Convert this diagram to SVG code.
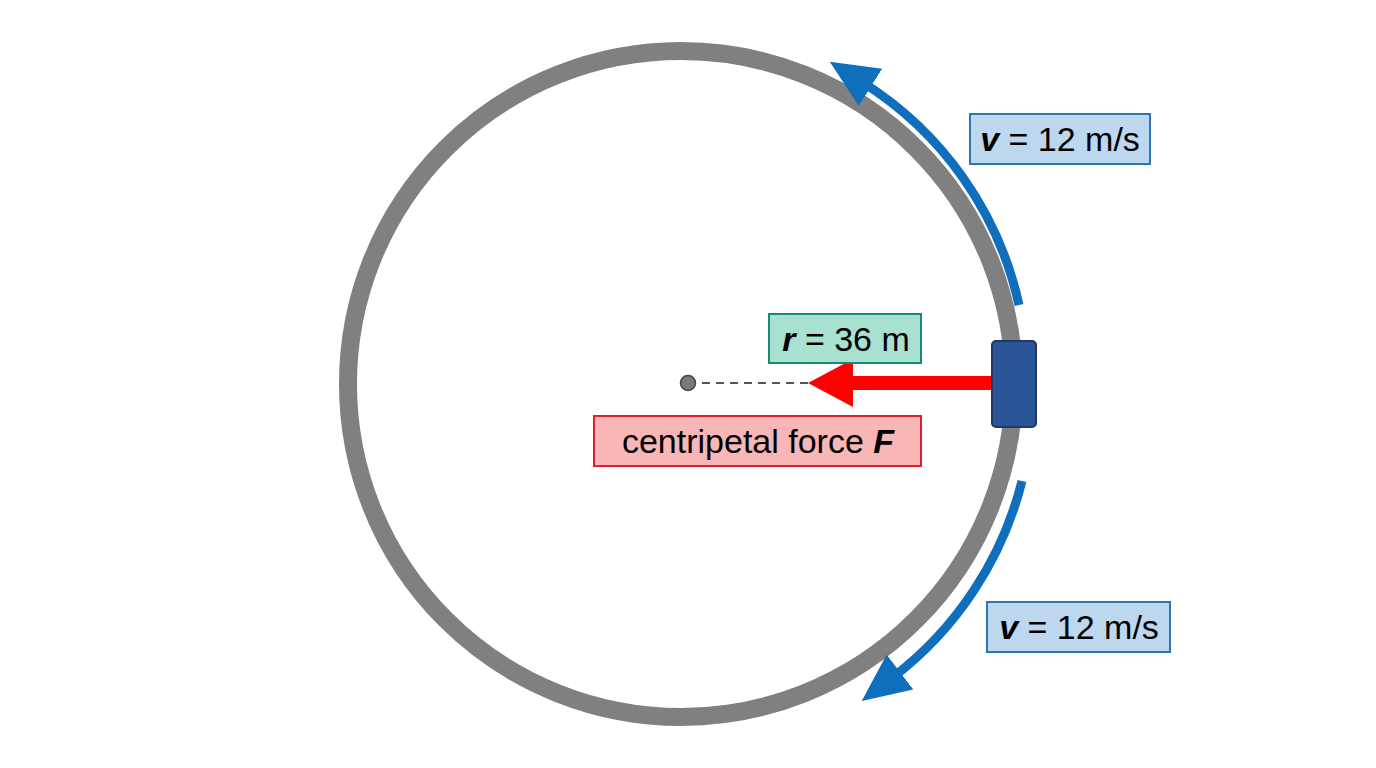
<svg xmlns="http://www.w3.org/2000/svg" width="1376" height="768" viewBox="0 0 1376 768">
<style>
text{font-family:"Liberation Sans",Arial,sans-serif;font-size:34px;fill:#000;text-anchor:middle}
.v{fill:#bdd7ee;stroke:#2e75b6;stroke-width:2}
.vel{fill:none;stroke:#0f6fbd;stroke-width:9}
</style>
<defs>
<marker id="ah" markerUnits="userSpaceOnUse" markerWidth="60" markerHeight="60" refX="10" refY="25" orient="auto"><path d="M0,3 L48,25 L0,47 Z" fill="#0f6fbd"/></marker>
</defs>
<rect width="1376" height="768" fill="#fff"/>
<g id="track"><circle cx="681" cy="384" r="333" fill="none" stroke="#808080" stroke-width="18"/></g>
<g id="connectors">
<path class="vel" d="M1019,305 A352,352 0 0 0 862,82" marker-end="url(#ah)"/>
<path class="vel" d="M1022,481 A356,356 0 0 1 892,678" marker-end="url(#ah)"/>
<line x1="688" y1="383" x2="808" y2="383" stroke="#555" stroke-width="2" stroke-dasharray="8,6"/>
<line x1="992" y1="383" x2="845" y2="383" stroke="#ff0000" stroke-width="14"/>
<path d="M808,383 L853,359 L853,407 Z" fill="#ff0000"/>
</g>
<g id="center"><circle cx="688" cy="383" r="7.5" fill="#7a7a7a" stroke="#444" stroke-width="1.5"/></g>
<g id="block"><rect x="992" y="341" width="44" height="86" rx="4" fill="#2b5597" stroke="#1f3864" stroke-width="2"/></g>
<g id="v1"><rect class="v" x="970" y="114" width="180" height="50"/><text x="1060" y="151"><tspan font-weight="bold" font-style="italic">v</tspan> = 12 m/s</text></g>
<g id="v2"><rect class="v" x="987" y="602" width="183" height="50"/><text x="1079" y="639"><tspan font-weight="bold" font-style="italic">v</tspan> = 12 m/s</text></g>
<g id="r"><rect x="769" y="314" width="152" height="49" fill="#a8e0d1" stroke="#178a78" stroke-width="2"/><text x="846" y="351"><tspan font-weight="bold" font-style="italic">r</tspan> = 36 m</text></g>
<g id="F"><rect x="594" y="416" width="327" height="50" fill="#f8b6b6" stroke="#e0202a" stroke-width="2"/><text x="758" y="453">centripetal force <tspan font-weight="bold" font-style="italic">F</tspan></text></g>
</svg>
